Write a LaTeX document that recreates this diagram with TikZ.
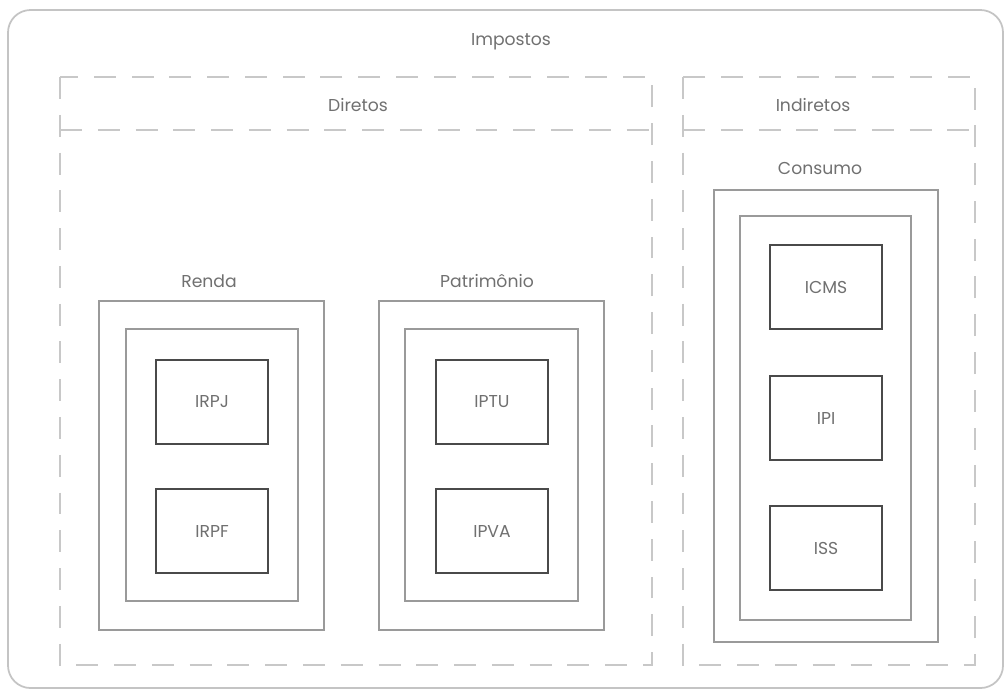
\documentclass[tikz,border=0pt]{standalone}
\usepackage{fontspec}
\setmainfont{Poppins}
\definecolor{framegray}{HTML}{C4C4C4}
\definecolor{dashgray}{HTML}{C8C8C8}
\definecolor{shellgray}{HTML}{9A9A9A}
\definecolor{boxgray}{HTML}{4A4A4A}
\definecolor{textgray}{HTML}{707070}
\tikzset{
  label text/.style={text=textgray, font=\fontsize{9.8}{11}\selectfont, inner sep=0pt},
  groupframe/.style={draw=dashgray, line width=0.9pt, dash pattern=on 12.5pt off 9pt},
  shellbox/.style={draw=shellgray, line width=0.8pt},
  taxbox/.style={draw=boxgray, line width=0.8pt, minimum width=2.24cm, minimum height=1.68cm, inner sep=0pt, text=textgray, font=\fontsize{9.8}{11}\selectfont},
}
\begin{document}
\begin{tikzpicture}[x=0.02cm, y=-0.02cm]
\useasboundingbox (0,0) rectangle (1006,691);

% outer frame
\draw[framegray, line width=1pt, rounded corners=0.45cm] (8,10) rectangle (1003,688);
\node[label text] (impostos) at (511,42) {Impostos};

% diretos / indiretos
\draw[groupframe] (60,77) rectangle (652,665);
\draw[groupframe] (60,130) -- (652,130);
\node[label text] (diretos) at (358,105) {Diretos};

\draw[groupframe] (683,77) rectangle (975,665);
\draw[groupframe] (683,130) -- (975,130);
\node[label text] (indiretos) at (813,105) {Indiretos};

% renda
\node[label text] (renda) at (209,281) {Renda};
\draw[shellbox] (99,301) rectangle (324,630);
\draw[shellbox] (126,329) rectangle (298,601);
\node[taxbox] (irpj) at (212,402) {IRPJ};
\node[taxbox] (irpf) at (212,531) {IRPF};

% patrimonio
\node[label text] (patrimonio) at (487,281) {Patrimônio};
\draw[shellbox] (379,301) rectangle (604,630);
\draw[shellbox] (405,329) rectangle (578,601);
\node[taxbox] (iptu) at (492,402) {IPTU};
\node[taxbox] (ipva) at (492,531) {IPVA};

% consumo
\node[label text] (consumo) at (820,168) {Consumo};
\draw[shellbox] (714,190) rectangle (938,642);
\draw[shellbox] (740,216) rectangle (911,620);
\node[taxbox] (icms) at (826,287) {ICMS};
\node[taxbox] (ipi) at (826,418) {IPI};
\node[taxbox] (iss) at (826,548) {ISS};
\end{tikzpicture}
\end{document}
